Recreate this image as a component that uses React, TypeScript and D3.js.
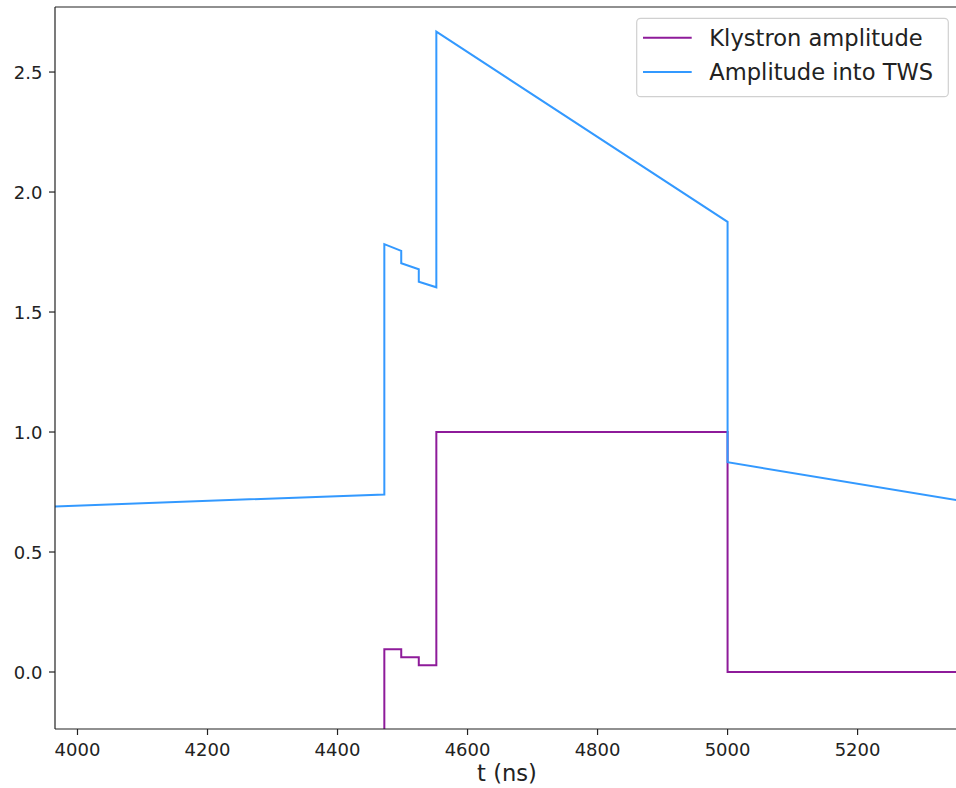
import React from "react";
import * as d3 from "d3";

const twsT = [3965, 4472, 4472, 4498, 4498, 4525, 4525, 4552, 4552, 5000, 5000, 5356];
const twsV = [0.69, 0.74, 1.783, 1.755, 1.703, 1.678, 1.626, 1.603, 2.668, 1.876, 0.874, 0.715];

const klyT = [4472, 4472, 4498, 4498, 4525, 4525, 4552, 4552, 5000, 5000, 5356];
const klyV = [-1, 0.095, 0.095, 0.061, 0.061, 0.028, 0.028, 1.0, 1.0, 0, 0];

const xTicks = [4000, 4200, 4400, 4600, 4800, 5000, 5200];
const yTicks = [0, 0.5, 1.0, 1.5, 2.0, 2.5];

const seriesNames = ["Klystron amplitude", "Amplitude into TWS"];
const seriesColors = ["#8e1b9a", "#3399ff"];

const W = 956;
const H = 788;
const L = 55, T = 7, R = 959, B = 729;

export default function App() {
  const x = d3.scaleLinear().domain([3965.4, 5356]).range([L, R]);
  const y = d3.scaleLinear().domain([-0.2375, 2.771]).range([B, T]);
  const line = d3
    .line<[number, number]>()
    .x((d) => x(d[0]))
    .y((d) => y(d[1]));
  const kly = klyT.map((t, i) => [t, klyV[i]] as [number, number]);
  const tws = twsT.map((t, i) => [t, twsV[i]] as [number, number]);
  const font = "DejaVu Sans, sans-serif";
  const fmt = d3.format(".1f");
  return (
    <div style={{ position: "fixed", left: 0, top: 0 }}>
      <svg width={W} height={H} style={{ display: "block", background: "#fff" }}>
        <defs>
          <clipPath id="plot">
            <rect x={L} y={T} width={R - L} height={B - T} />
          </clipPath>
        </defs>
        <g clipPath="url(#plot)" fill="none" strokeWidth={2} strokeLinejoin="miter">
          <path d={line(kly) || ""} stroke={seriesColors[0]} />
          <path d={line(tws) || ""} stroke={seriesColors[1]} />
        </g>
        <g stroke="#222" strokeWidth={1.2} fill="none">
          <line x1={L} y1={T} x2={L} y2={B} />
          <line x1={L} y1={B} x2={R} y2={B} />
          <line x1={L} y1={T} x2={R} y2={T} />
          <line x1={R} y1={T} x2={R} y2={B} />
        </g>
        {xTicks.map((t) => (
          <g key={"x" + t}>
            <line x1={x(t)} x2={x(t)} y1={B} y2={B + 6} stroke="#222" strokeWidth={1.2} />
            <text x={x(t)} y={756} textAnchor="middle" fontFamily={font} fontSize={18} fill="#222">
              {t}
            </text>
          </g>
        ))}
        {yTicks.map((v) => (
          <g key={"y" + v}>
            <line x1={L - 6} x2={L} y1={y(v)} y2={y(v)} stroke="#222" strokeWidth={1.2} />
            <text x={42.5} y={y(v) + 6.5} textAnchor="end" fontFamily={font} fontSize={18} fill="#222">
              {fmt(v)}
            </text>
          </g>
        ))}
        <text x={(L + R) / 2} y={781} textAnchor="middle" fontFamily={font} fontSize={22.6} fill="#222">
          t (ns)
        </text>
        <rect x={636.7} y={18.3} width={311.6} height={78.4} rx={4} fill="#fff" fillOpacity={0.8} stroke="#d0d0d0" strokeWidth={1.2} />
        {seriesNames.map((n, i) => (
          <g key={n}>
            <line x1={643} x2={691.7} y1={37.7 + i * 34.3} y2={37.7 + i * 34.3} stroke={seriesColors[i]} strokeWidth={2} />
            <text x={709.3} y={37.7 + i * 34.3 + 8} fontFamily={font} fontSize={22.6} fill="#222">
              {n}
            </text>
          </g>
        ))}
      </svg>
    </div>
  );
}
